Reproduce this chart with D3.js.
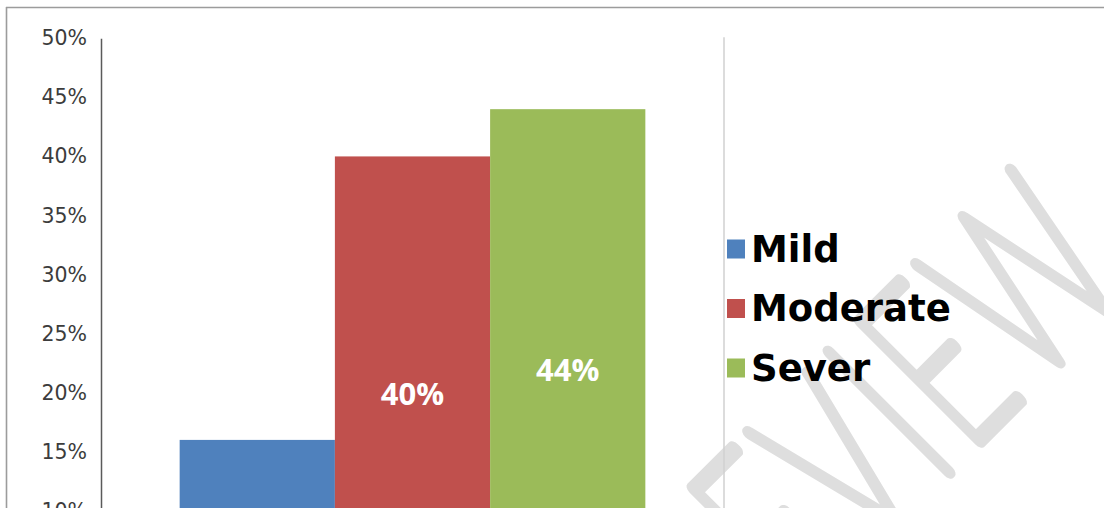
<!DOCTYPE html>
<html>
<head>
<meta charset="utf-8">
<script src="https://cdn.jsdelivr.net/npm/d3@7/dist/d3.min.js"></script>
<style>
  html, body { margin: 0; padding: 0; background: #ffffff; }
  svg { display: block; }
</style>
</head>
<body>
<svg id="chart" width="1104" height="508"></svg>
<script>
// ---- data ----
const categories = ["Severity"];
const seriesNames = ["Mild", "Moderate", "Sever"];
const seriesValues = [0.16, 0.40, 0.44];
const seriesColors = ["#4f81bd", "#c0504d", "#9bbb59"];
const yTicks = [0.10, 0.15, 0.20, 0.25, 0.30, 0.35, 0.40, 0.45, 0.50];
const watermarkText = "PREVIEW";

// ---- layout ----
const W = 1104, H = 508;
const plot = { left: 101, right: 724, top: 38.3, bottom: 628.9 };

const svg = d3.select("#chart");

// watermark (behind everything)
svg.append("text")
  .attr("transform", "translate(1140,280) rotate(-45) scale(0.6,1)")
  .attr("text-anchor", "end")
  .attr("font-family", "Lato, sans-serif")
  .attr("font-weight", 100)
  .attr("font-size", 240)
  .attr("letter-spacing", 14)
  .attr("fill", "#dedede")
  .attr("stroke", "#dedede")
  .attr("stroke-width", 13)
  .attr("vector-effect", "non-scaling-stroke")
  .attr("stroke-linejoin", "round")
  .attr("stroke-linecap", "round")
  .text(watermarkText);

// outer frame (partially visible)
svg.append("line").attr("x1", 6).attr("x2", W).attr("y1", 7.5).attr("y2", 7.5)
  .attr("stroke", "#9c9c9c").attr("stroke-width", 1.6);
svg.append("line").attr("x1", 6.5).attr("x2", 6.5).attr("y1", 7).attr("y2", H)
  .attr("stroke", "#9c9c9c").attr("stroke-width", 1.6);

const y = d3.scaleLinear().domain([0, 0.5]).range([plot.bottom, plot.top]);
const x0 = d3.scaleBand().domain(categories).range([plot.left, plot.right])
  .paddingInner(0.1445).paddingOuter(0.1445);
const x1 = d3.scaleBand().domain(seriesNames).range([0, x0.bandwidth()]).padding(0);

// right plot border
svg.append("line").attr("x1", plot.right).attr("x2", plot.right)
  .attr("y1", plot.top - 1).attr("y2", H)
  .attr("stroke", "#d0d0d0").attr("stroke-width", 1.5);

// bars
const rows = seriesNames.map((s, i) => ({ cat: categories[0], name: s, value: seriesValues[i], color: seriesColors[i] }));
const g = svg.append("g");
g.selectAll("rect.bar").data(rows).enter().append("rect")
  .attr("class", "bar")
  .attr("x", d => x0(d.cat) + x1(d.name))
  .attr("width", x1.bandwidth())
  .attr("y", d => y(d.value))
  .attr("height", d => y(0) - y(d.value))
  .attr("fill", d => d.color);

// data labels centered in bars
g.selectAll("text.lbl").data(rows).enter().append("text")
  .attr("class", "lbl")
  .attr("x", d => x0(d.cat) + x1(d.name) + x1.bandwidth() / 2)
  .attr("y", d => (y(d.value) + y(0)) / 2)
  .attr("text-anchor", "middle")
  .attr("dominant-baseline", "central")
  .attr("fill", "#ffffff")
  .attr("font-family", "'Open Sans', sans-serif")
  .attr("font-weight", "bold")
  .attr("font-size", 31)
  .text(d => d3.format(".0%")(d.value));

// y axis
const yAxis = d3.axisLeft(y).tickValues(yTicks).tickFormat(d3.format(".0%")).tickSize(0).tickPadding(14);
const ax = svg.append("g").attr("transform", `translate(${plot.left},0)`).call(yAxis);
ax.select(".domain").attr("stroke", "#5a5a5a").attr("stroke-width", 1.5);
ax.selectAll("text")
  .attr("font-family", "'DejaVu Sans', sans-serif")
  .attr("font-size", 20.5)
  .attr("fill", "#3c3c3c");

// legend
const lg = svg.append("g").attr("transform", "translate(727,249)");
const items = lg.selectAll("g").data(rows).enter().append("g")
  .attr("transform", (d, i) => `translate(0,${i * 59.5})`);
items.append("rect").attr("x", 0).attr("y", -9.5).attr("width", 18).attr("height", 19)
  .attr("fill", d => d.color);
items.append("text").attr("x", 24).attr("y", 0)
  .attr("dominant-baseline", "central")
  .attr("font-family", "'DejaVu Sans', sans-serif")
  .attr("font-weight", "bold")
  .attr("font-size", 37)
  .attr("fill", "#000")
  .text(d => d.name);
</script>
</body>
</html>
